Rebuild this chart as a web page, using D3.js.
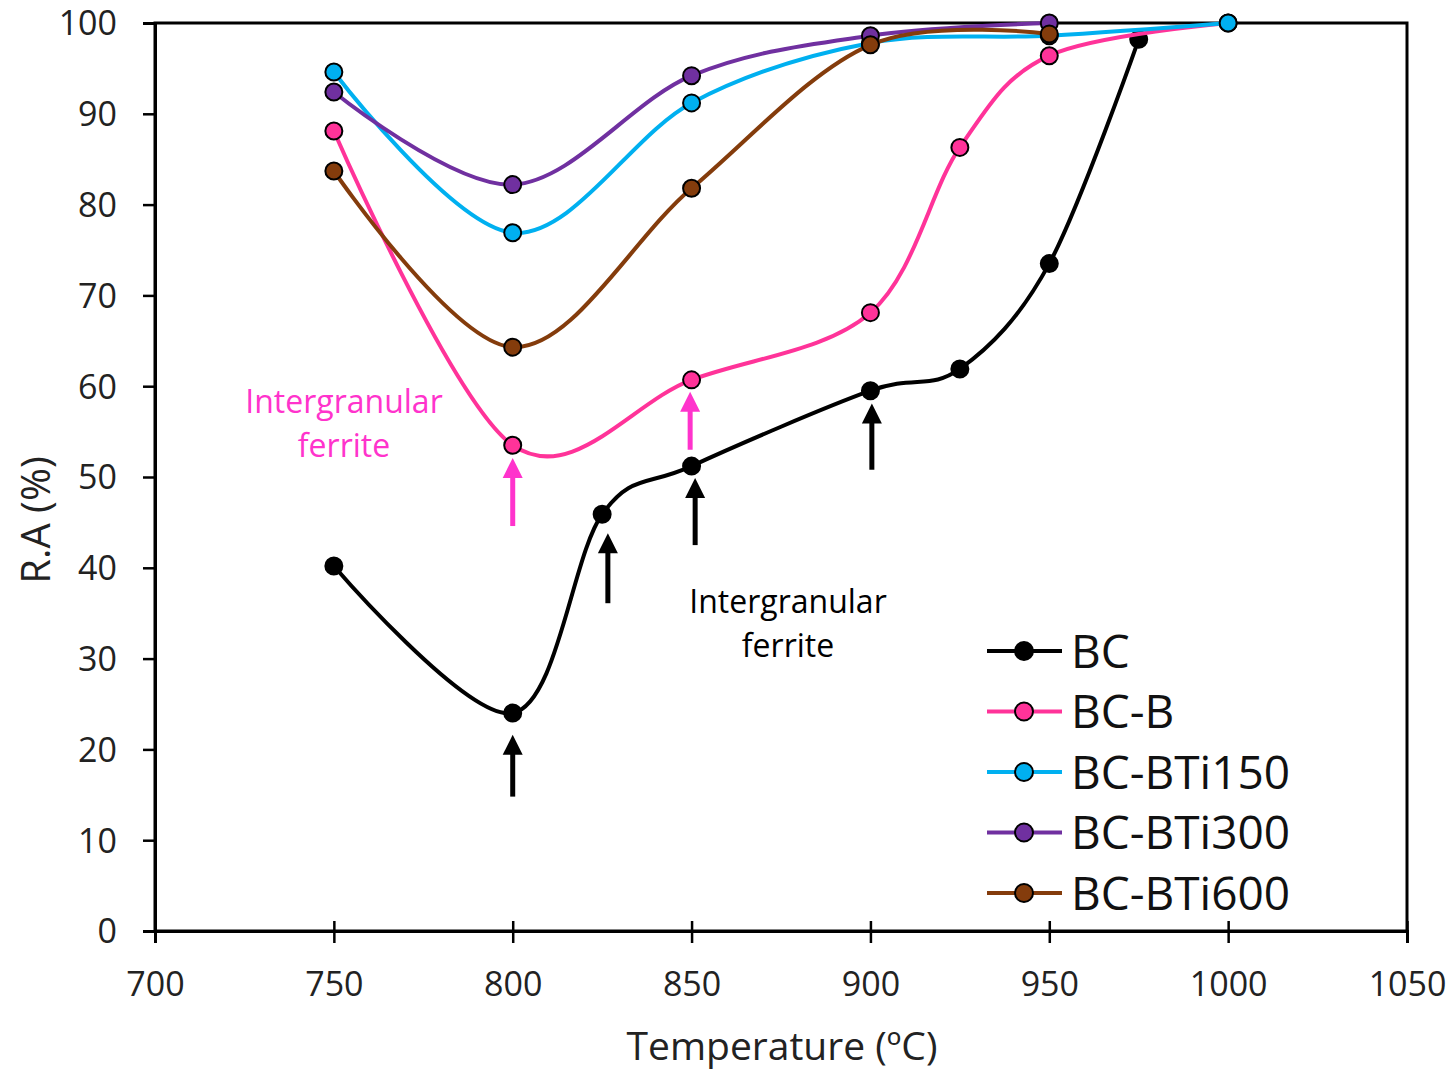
<!DOCTYPE html>
<html>
<head>
<meta charset="utf-8">
<script src="https://cdn.jsdelivr.net/npm/d3@7"></script>
<style>
  body { margin: 0; background: #fff; }
  text { font-family: "Open Sans", sans-serif; }
</style>
</head>
<body>
<svg id="chart" width="1455" height="1074"></svg>
<script>
// data
const seriesNames = ["BC", "BC-B", "BC-BTi150", "BC-BTi300", "BC-BTi600"];
const seriesColors = ["#000000", "#FF3399", "#00B0F0", "#7030A0", "#843C0C"];

const bcTemp = [750, 800, 825, 850, 900, 925, 950, 975];
const bcRA = [40.2, 24.0, 45.9, 51.2, 59.5, 61.9, 73.5, 98.2];

const bcbTemp = [750, 800, 850, 900, 925, 950, 1000];
const bcbRA = [88.1, 53.5, 60.7, 68.1, 86.3, 96.4, 100];

const ti150Temp = [750, 800, 850, 900, 950, 1000];
const ti150RA = [94.6, 76.9, 91.2, 97.8, 98.6, 100];

const ti300Temp = [750, 800, 850, 900, 950];
const ti300RA = [92.4, 82.2, 94.2, 98.6, 100];

const ti600Temp = [750, 800, 850, 900, 950];
const ti600RA = [83.7, 64.3, 81.8, 97.6, 98.8];

const xTicks = [700, 750, 800, 850, 900, 950, 1000, 1050];
const yTicks = [0, 10, 20, 30, 40, 50, 60, 70, 80, 90, 100];

// arrows: [temperature, tail RA, tip RA]
const blackArrows = [[800, 14.8, 21.6], [826.6, 36.1, 43.8], [851, 42.5, 49.9], [900.4, 50.8, 58.1]];
const pinkArrows = [[800, 44.6, 52.1], [849.6, 53.0, 59.4]];

const allSeries = [
  [bcTemp, bcRA], [bcbTemp, bcbRA], [ti150Temp, ti150RA], [ti300Temp, ti300RA], [ti600Temp, ti600RA]
].map(function (s, i) {
  return {
    name: seriesNames[i],
    color: seriesColors[i],
    values: s[0].map(function (t, j) { return { t: t, ra: s[1][j] }; })
  };
});

const svg = d3.select("#chart");
const plotLeft = 155, plotRight = 1407, plotTop = 23, plotBottom = 931;

const x = d3.scaleLinear().domain([700, 1050]).range([plotLeft, plotRight]);
const y = d3.scaleLinear().domain([0, 100]).range([plotBottom, plotTop]);

// plot frame
svg.append("rect")
  .attr("x", plotLeft).attr("y", plotTop)
  .attr("width", plotRight - plotLeft).attr("height", plotBottom - plotTop)
  .attr("fill", "none").attr("stroke", "#000").attr("stroke-width", 3);

// axes
const yAxis = svg.append("g")
  .attr("transform", "translate(" + plotLeft + ",0)")
  .call(d3.axisLeft(y).tickValues(yTicks).tickSize(12).tickPadding(26).tickFormat(d3.format("d")));
const xAxis = svg.append("g")
  .attr("transform", "translate(0," + plotBottom + ")")
  .call(d3.axisBottom(x).tickValues(xTicks).tickSize(12).tickPadding(38).tickFormat(d3.format("d")));

[yAxis, xAxis].forEach(function (a) {
  a.select(".domain").attr("stroke-width", 3);
  a.selectAll(".tick line").attr("stroke-width", 2.5);
  a.selectAll(".tick text")
    .attr("font-size", 34).attr("fill", "#222")
    .attr("font-family", "Open Sans");
});
xAxis.selectAll(".tick line").attr("y1", -10);
xAxis.selectAll(".tick text").attr("dy", "0.45em");
yAxis.selectAll(".tick text").attr("dy", "0.35em");

// axis titles
svg.append("text")
  .attr("x", 782).attr("y", 1060)
  .attr("text-anchor", "middle").attr("font-size", 39).attr("fill", "#222")
  .text("Temperature (ºC)");
svg.append("text")
  .attr("transform", "translate(50,520) rotate(-90)")
  .attr("text-anchor", "middle").attr("font-size", 40).attr("fill", "#222")
  .text("R.A (%)");

// smooth lines like excel
const line = d3.line()
  .x(function (d) { return x(d.t); })
  .y(function (d) { return y(d.ra); })
  .curve(d3.curveCardinal.tension(0));

const seriesG = svg.selectAll(".series")
  .data(allSeries)
  .enter().append("g")
  .attr("class", "series");

seriesG.append("path")
  .attr("d", function (d) { return line(d.values); })
  .attr("fill", "none")
  .attr("stroke", function (d) { return d.color; })
  .attr("stroke-width", 4);

seriesG.selectAll("circle")
  .data(function (d) { return d.values.map(function (v) { return { v: v, color: d.color }; }); })
  .enter().append("circle")
  .attr("cx", function (d) { return x(d.v.t); })
  .attr("cy", function (d) { return y(d.v.ra); })
  .attr("r", 8.5)
  .attr("fill", function (d) { return d.color; })
  .attr("stroke", "#000").attr("stroke-width", 2);

// arrows pointing up at the data points
function drawArrows(list, color, id) {
  const g = svg.selectAll(".arrow-" + id)
    .data(list)
    .enter().append("g")
    .attr("class", "arrow-" + id);
  g.append("line")
    .attr("x1", function (d) { return x(d[0]); })
    .attr("x2", function (d) { return x(d[0]); })
    .attr("y1", function (d) { return y(d[1]); })
    .attr("y2", function (d) { return y(d[2]) + 16; })
    .attr("stroke", color).attr("stroke-width", 5);
  g.append("path")
    .attr("d", function (d) {
      const cx = x(d[0]), tip = y(d[2]);
      return "M" + cx + "," + tip + "L" + (cx + 10) + "," + (tip + 20) + "L" + (cx - 10) + "," + (tip + 20) + "Z";
    })
    .attr("fill", color);
}
drawArrows(blackArrows, "#000", "black");
drawArrows(pinkArrows, "#FF33CC", "pink");

// annotations
function note(cx, cy, color) {
  const t = svg.append("text")
    .attr("text-anchor", "middle").attr("font-size", 32).attr("fill", color);
  t.append("tspan").attr("x", cx).attr("y", cy).text("Intergranular");
  t.append("tspan").attr("x", cx).attr("y", cy + 44).text("ferrite");
}
note(344, 413, "#FF33CC");
note(788, 613, "#000");

// legend
const legend = svg.append("g").attr("transform", "translate(987,651)");
const item = legend.selectAll("g")
  .data(allSeries)
  .enter().append("g")
  .attr("transform", function (d, i) { return "translate(0," + i * 60.5 + ")"; });
item.append("line")
  .attr("x1", 0).attr("x2", 75)
  .attr("stroke", function (d) { return d.color; }).attr("stroke-width", 4);
item.append("circle")
  .attr("cx", 37).attr("r", 9)
  .attr("fill", function (d) { return d.color; })
  .attr("stroke", "#000").attr("stroke-width", 2);
item.append("text")
  .attr("x", 84).attr("dy", "0.36em")
  .attr("font-size", 46).attr("fill", "#111")
  .text(function (d) { return d.name; });
</script>
</body>
</html>
